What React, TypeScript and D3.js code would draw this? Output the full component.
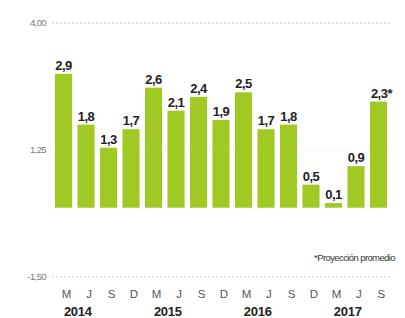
import React from 'react';
import * as d3 from 'd3';

const months = ['M', 'J', 'S', 'D', 'M', 'J', 'S', 'D', 'M', 'J', 'S', 'D', 'M', 'J', 'S'];
const values = [2.9, 1.8, 1.3, 1.7, 2.6, 2.1, 2.4, 1.9, 2.5, 1.7, 1.8, 0.5, 0.1, 0.9, 2.3];
const valueLabels = ['2,9', '1,8', '1,3', '1,7', '2,6', '2,1', '2,4', '1,9', '2,5', '1,7', '1,8', '0,5', '0,1', '0,9', '2,3*'];
const years = ['2014', '2015', '2016', '2017'];
const yTicks = [4, 1.25, -1.5];
const yTickLabels = ['4,00', '1,25', '-1,50'];

const W = 405;
const H = 318;
const FONT = '"Liberation Sans", Arial, sans-serif';

export default function App() {
  const x = d3.scaleBand<number>()
    .domain(values.map((_, i) => i))
    .range([55, 387])
    .paddingInner(0.24)
    .paddingOuter(0);

  const y = d3.scaleLinear()
    .domain([-1.5, 4])
    .range([277, 23]);

  const bw = x.bandwidth();

  return (
    <div style={{ position: 'absolute', left: 0, top: 0 }}>
      <svg width={W} height={H} style={{ display: 'block', background: '#fff' }}>
        {/* grid lines */}
        {yTicks.map((t, i) => (
          <g key={t}>
            <line
              x1={52}
              x2={390}
              y1={y(t)}
              y2={y(t)}
              stroke={t === 1.25 ? '#e6e6e6' : '#bdbdbd'}
              strokeWidth={0.8}
              strokeDasharray="2,2"
            />
            <text
              x={46}
              y={y(t)}
              dy="0.35em"
              textAnchor="end"
              fontFamily={FONT}
              fontSize={9.5}
              letterSpacing={-0.6}
              fill="#777"
            >
              {yTickLabels[i]}
            </text>
          </g>
        ))}

        {/* bars */}
        {values.map((v, i) => (
          <rect
            key={i}
            x={x(i)}
            y={y(v)}
            width={bw}
            height={y(0) - y(v)}
            fill="#a0c924"
          />
        ))}

        {/* value labels */}
        {values.map((v, i) => (
          <text
            key={'v' + i}
            x={(x(i) ?? 0) + bw / 2 + (i === values.length - 1 ? 3 : 0)}
            y={y(v) - 4}
            textAnchor="middle"
            fontFamily={FONT}
            fontSize={13}
            fontWeight="bold"
            letterSpacing={-0.5}
            fill="#222"
          >
            {valueLabels[i]}
          </text>
        ))}

        {/* footnote */}
        <text
          x={395}
          y={261}
          textAnchor="end"
          fontFamily={FONT}
          fontSize={9.5}
          letterSpacing={-0.6}
          fill="#333"
        >
          *Proyección promedio
        </text>

        {/* month labels */}
        {months.map((m, i) => (
          <text
            key={'m' + i}
            x={(x(i) ?? 0) + bw / 2 + 3}
            y={298}
            textAnchor="middle"
            fontFamily={FONT}
            fontSize={11.5}
            fill="#555"
          >
            {m}
          </text>
        ))}

        {/* year labels */}
        {years.map((yr, i) => {
          const a = (x(i * 4) ?? 0) + bw / 2 + 3;
          const b = (x(i * 4 + 1) ?? 0) + bw / 2 + 3;
          return (
            <text
              key={yr}
              x={(a + b) / 2}
              y={316}
              textAnchor="middle"
              fontFamily={FONT}
              fontSize={13}
              fontWeight="bold"
              letterSpacing={-0.3}
              fill="#222"
            >
              {yr}
            </text>
          );
        })}
      </svg>
    </div>
  );
}
